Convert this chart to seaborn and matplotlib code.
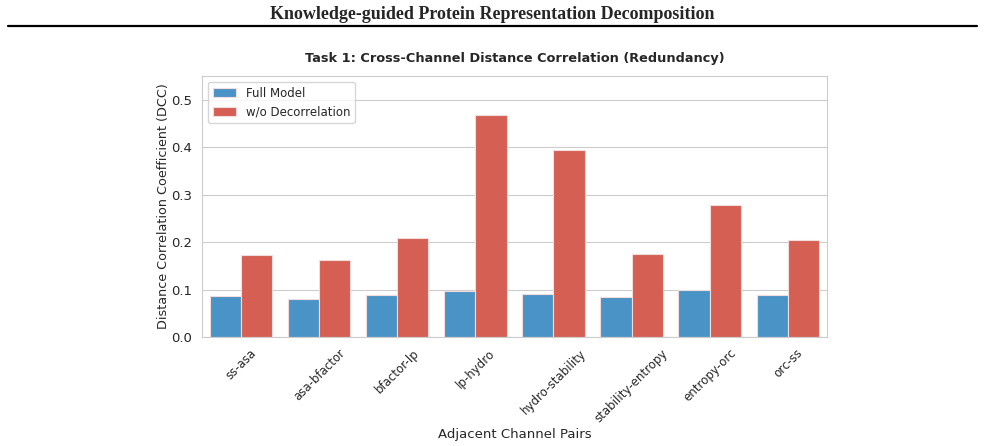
import numpy as np
import pandas as pd
import matplotlib
import matplotlib.pyplot as plt
from matplotlib.lines import Line2D
import seaborn as sns

pairs = ["ss-asa", "asa-bfactor", "bfactor-lp", "lp-hydro", "hydro-stability",
         "stability-entropy", "entropy-orc", "orc-ss"]
full_model = [0.086, 0.081, 0.089, 0.097, 0.091, 0.085, 0.098, 0.088]
wo_decorr = [0.172, 0.163, 0.209, 0.468, 0.395, 0.174, 0.279, 0.205]
series_names = ["Full Model", "w/o Decorrelation"]

df = pd.DataFrame({
    "pair": pairs * 2,
    "dcc": full_model + wo_decorr,
    "model": [series_names[0]] * len(pairs) + [series_names[1]] * len(pairs),
})

sns.set_style("whitegrid")
plt.rcParams["font.family"] = ["DejaVu Sans"]

fig = plt.figure(figsize=(9.85, 4.46), dpi=100)
ax = fig.add_axes([0.205, 0.2444, 0.6345, 0.5852])

sns.barplot(data=df, x="pair", y="dcc", hue="model", ax=ax,
            palette=["#4993c6", "#d45f52"], edgecolor="#f3dcdc", linewidth=0.8,
            saturation=1)

ax.set_ylim(0, 0.55)
ax.set_title("Task 1: Cross-Channel Distance Correlation (Redundancy)",
             fontsize=9.3, fontweight="bold", pad=10)
ax.set_xlabel("Adjacent Channel Pairs", fontsize=9.5, labelpad=2)
ax.set_ylabel("Distance Correlation Coefficient (DCC)", fontsize=9.2, labelpad=1)
ax.tick_params(axis="y", labelsize=9.5)
ax.tick_params(axis="x", labelsize=8.5)
plt.setp(ax.get_xticklabels(), rotation=45, ha="center")
ax.legend(loc="upper left", fontsize=8.5, title=None, frameon=True)

fig.text(0.5, 0.968, "Knowledge-guided Protein Representation Decomposition",
         ha="center", va="center", fontsize=13, fontweight="bold",
         family="Liberation Serif")
fig.add_artist(Line2D([0.008, 0.992], [0.942, 0.942], color="black", lw=1.6,
                      transform=fig.transFigure))

fig.savefig("out.png", dpi=100)
